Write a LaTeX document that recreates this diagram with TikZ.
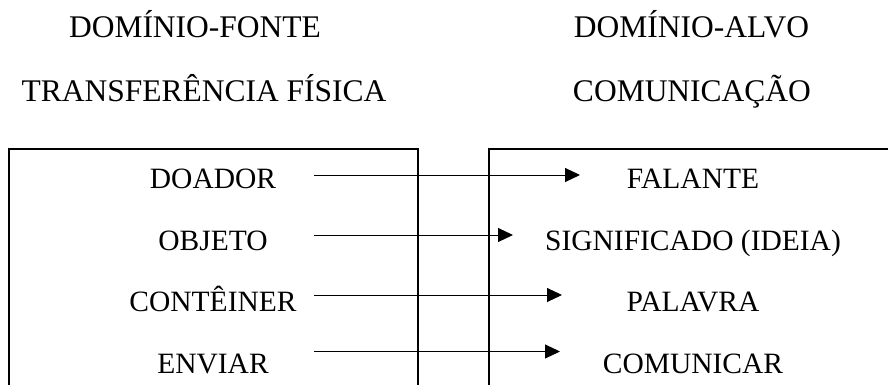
\documentclass[tikz,border=0pt]{standalone}
\usepackage{fontspec}
\setmainfont{Liberation Serif}
\usetikzlibrary{arrows.meta}
\begin{document}
\begin{tikzpicture}[x=1pt,y=-1pt,
  head/.style={anchor=base,inner sep=0pt,font=\fontsize{31.5}{36}\selectfont},
  lbl/.style={anchor=base,inner sep=0pt,font=\fontsize{29.5}{34}\selectfont},
  boxline/.style={line width=2pt},
  maparrow/.style={line width=1pt,-{Triangle[length=15pt,width=14pt]}}]
\useasboundingbox (0,0) rectangle (888,385);
% headings
\node[head] (hsl) at (195,38) {DOMÍNIO-FONTE};
\node[head] (hsr) at (691.5,38) {DOMÍNIO-ALVO};
\node[head] (htl) at (204,102) {TRANSFERÊNCIA FÍSICA};
\node[head] (htr) at (692,102) {COMUNICAÇÃO};
% boxes (open at bottom)
\draw[boxline] (8.7,386) -- (8.7,149.3) -- (418,149.3) -- (418,386);
\draw[boxline] (488.7,386) -- (488.7,149.3) -- (889,149.3);
% left labels
\node[lbl] (l1) at (213,188) {DOADOR};
\node[lbl] (l2) at (213,250) {OBJETO};
\node[lbl] (l3) at (213,311.7) {CONTÊINER};
\node[lbl] (l4) at (213,373) {ENVIAR};
% right labels
\node[lbl] (r1) at (693,188) {FALANTE};
\node[lbl] (r2) at (693,250) {SIGNIFICADO (IDEIA)};
\node[lbl] (r3) at (693,311.7) {PALAVRA};
\node[lbl] (r4) at (693,373) {COMUNICAR};
% arrow ends
\coordinate (s1) at (314,175);
\coordinate (s2) at (314,235);
\coordinate (s3) at (314,295);
\coordinate (s4) at (314,351.5);
\coordinate (t1) at (580,175);
\coordinate (t2) at (513,235);
\coordinate (t3) at (562,295);
\coordinate (t4) at (560,351.5);
\draw[maparrow] (s1) -- (t1);
\draw[maparrow] (s2) -- (t2);
\draw[maparrow] (s3) -- (t3);
\draw[maparrow] (s4) -- (t4);
\end{tikzpicture}
\end{document}
